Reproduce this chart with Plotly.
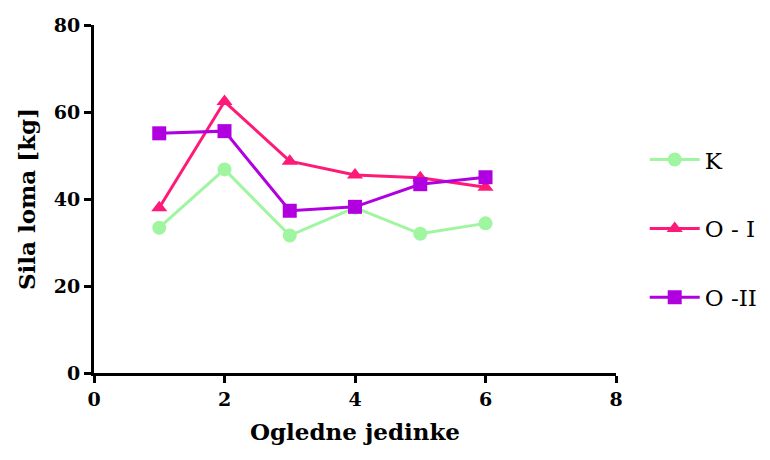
import plotly.graph_objects as go

# Test specimens (x) and breaking force in kg for each group
jedinke = [1, 2, 3, 4, 5, 6]
sila_k = [33.4, 46.8, 31.6, 38.0, 32.0, 34.4]
sila_o1 = [38.0, 62.4, 48.7, 45.5, 44.9, 42.7]
sila_o2 = [55.1, 55.6, 37.3, 38.2, 43.4, 45.0]

serif = "DejaVu Serif, Liberation Serif, serif"

fig = go.Figure()

series = [
    ("K", sila_k, "#a0f5a0", "circle"),
    ("O - I", sila_o1, "#ff1a78", "triangle-up"),
    ("O -II", sila_o2, "#b000e0", "square"),
]
for name, vals, color, sym in series:
    fig.add_trace(go.Scatter(
        x=jedinke, y=vals, name=name, mode="lines+markers",
        line=dict(color=color, width=3),
        marker=dict(color=color, symbol=sym, size=14),
        legendgroup=name, cliponaxis=False,
    ))

axis_common = dict(
    showline=True, linecolor="black", linewidth=3,
    ticks="outside", ticklen=7, tickwidth=3, tickcolor="black",
    showgrid=False, zeroline=False,
    tickfont=dict(family=serif, size=19, color="black", weight="bold"),
)

fig.update_layout(
    width=770, height=460,
    margin=dict(l=94, r=154, t=25, b=87, autoexpand=False),
    paper_bgcolor="white", plot_bgcolor="white",
    xaxis=dict(range=[0, 8], dtick=2, tick0=0,
               title=dict(text="<b>Ogledne jedinke</b>", standoff=16,
                          font=dict(family=serif, size=23, color="black")),
               **axis_common),
    yaxis=dict(range=[0, 80], dtick=20, tick0=0,
               title=dict(text="<b>Sila loma [kg]</b>", standoff=12,
                          font=dict(family=serif, size=23, color="black")),
               **axis_common),
    legend=dict(x=1.055, y=0.675, xanchor="left", yanchor="top",
                font=dict(family=serif, size=23, color="black"),
                itemwidth=50,
                tracegroupgap=36, bgcolor="rgba(0,0,0,0)"),
)

fig.write_html("out.html")
